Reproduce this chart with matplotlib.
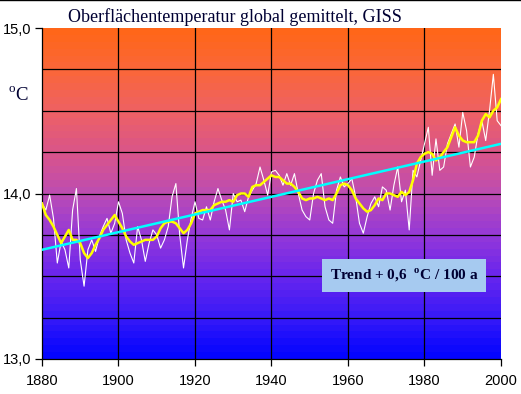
import numpy as np
import matplotlib
matplotlib.use('Agg')
import matplotlib.pyplot as plt
from matplotlib.colors import LinearSegmentedColormap

plt.rcParams['mathtext.fontset'] = 'custom'
plt.rcParams['mathtext.rm'] = 'Liberation Serif'
plt.rcParams['mathtext.bf'] = 'Liberation Serif:bold'

years = np.arange(1880, 2001)

# Jahreswerte (weiss)
annual = [13.94, 13.90, 13.99, 13.85, 13.58, 13.71, 13.66, 13.55, 13.90, 14.03,
          13.60, 13.44, 13.66, 13.72, 13.65, 13.74, 13.80, 13.85, 13.76, 13.82,
          13.95, 13.88, 13.72, 13.64, 13.58, 13.80, 13.72, 13.59, 13.70, 13.78,
          13.75, 13.67, 13.72, 13.80, 13.98, 14.06, 13.75, 13.55, 13.72, 13.85,
          13.95, 13.85, 13.84, 13.92, 13.84, 13.95, 14.03, 13.96, 13.90, 13.78,
          14.00, 13.95, 13.96, 13.89, 13.98, 14.02, 14.06, 14.16, 14.08, 13.99,
          14.13, 14.14, 14.11, 14.05, 14.12, 14.05, 14.12, 14.00, 13.90, 13.86,
          13.84, 14.00, 14.08, 14.12, 13.92, 13.84, 13.82, 14.02, 14.10, 14.04,
          14.06, 14.09, 13.98, 13.82, 13.76, 13.86, 13.94, 13.98, 13.92, 14.04,
          14.02, 13.90, 14.05, 14.16, 13.95, 14.02, 13.78, 14.14, 14.10, 14.20,
          14.30, 14.40, 14.11, 14.33, 14.14, 14.16, 14.30, 14.36, 14.42, 14.28,
          14.49, 14.38, 14.16, 14.22, 14.36, 14.44, 14.32, 14.50, 14.72, 14.44,
          14.41]

# gleitendes Mittel (gelb)
smooth = [13.94, 13.87, 13.84, 13.80, 13.75, 13.70, 13.74, 13.78, 13.72, 13.72,
          13.70, 13.64, 13.61, 13.64, 13.69, 13.73, 13.78, 13.81, 13.84, 13.87,
          13.83, 13.79, 13.74, 13.71, 13.69, 13.70, 13.71, 13.72, 13.72, 13.72,
          13.74, 13.79, 13.82, 13.83, 13.83, 13.82, 13.79, 13.76, 13.78, 13.82,
          13.88, 13.89, 13.90, 13.90, 13.90, 13.93, 13.94, 13.95, 13.95, 13.96,
          13.95, 13.99, 14.00, 14.00, 13.98, 14.04, 14.05, 14.05, 14.07, 14.09,
          14.11, 14.10, 14.10, 14.08, 14.06, 14.06, 14.04, 14.01, 13.97, 13.96,
          13.97, 13.97, 13.98, 13.97, 13.96, 13.97, 13.96, 14.00, 14.05, 14.06,
          14.05, 14.02, 13.97, 13.94, 13.91, 13.89, 13.90, 13.93, 13.97, 13.96,
          14.00, 14.00, 13.99, 13.98, 14.01, 13.99, 14.01, 14.08, 14.18, 14.22,
          14.24, 14.25, 14.24, 14.20, 14.22, 14.25, 14.28, 14.34, 14.40, 14.35,
          14.32, 14.31, 14.31, 14.31, 14.35, 14.44, 14.48, 14.46, 14.50, 14.52,
          14.57]

trend_years = [1880, 2000]
trend_vals = [13.66, 14.30]

xticks = [1880, 1900, 1920, 1940, 1960, 1980, 2000]
yticks = [13.0, 14.0, 15.0]
ylabels = ['13,0', '14,0', '15,0']

fig = plt.figure(figsize=(5.21, 3.94), dpi=100)
ax = fig.add_axes([42/521, 35/394, 459/521, 331/394])

# Hintergrund: gestufter Verlauf blau -> orange
cmap = LinearSegmentedColormap.from_list('bg', [
    (0.00, (0.02, 0.02, 1.00)),
    (0.12, (0.22, 0.10, 0.97)),
    (0.25, (0.42, 0.15, 0.93)),
    (0.37, (0.58, 0.22, 0.85)),
    (0.50, (0.74, 0.30, 0.70)),
    (0.62, (0.85, 0.33, 0.55)),
    (0.75, (0.93, 0.38, 0.40)),
    (0.87, (0.98, 0.40, 0.24)),
    (1.00, (1.00, 0.40, 0.10))])
grad = np.linspace(0, 1, 48).reshape(-1, 1)
ax.imshow(grad, cmap=cmap, origin='lower', aspect='auto',
          extent=[1880, 2000, 13, 15], interpolation='nearest', zorder=0)

for y in np.arange(13.25, 15.0, 0.25):
    ax.axhline(y, color='black', lw=0.9, zorder=1)
for x in xticks[1:-1]:
    ax.axvline(x, color='black', lw=0.9, zorder=1)

ax.plot(years, annual, color='white', lw=0.8, zorder=2)
ax.plot(years, smooth, color='#ffff00', lw=1.8, zorder=3)
ax.plot(trend_years, trend_vals, color='#00ffff', lw=1.8, zorder=4)

ax.set_xlim(1880, 2000)
ax.set_ylim(13, 15)
ax.set_xticks(xticks)
ax.set_xticklabels([str(x) for x in xticks], fontsize=10.5, family='Liberation Sans')
ax.set_yticks(yticks)
ax.set_yticklabels(ylabels, fontsize=10.5, family='Liberation Sans')
ax.tick_params(axis='both', direction='out', length=5, width=0.9, pad=3)
ax.tick_params(axis='x', pad=6)
for s in ['top', 'right']:
    ax.spines[s].set_visible(False)
ax.spines['left'].set_linewidth(0.9)
ax.spines['bottom'].set_linewidth(0.9)

fig.text(68/521, 1 - 22/394, 'Oberflächentemperatur global gemittelt, GISS',
         family='Liberation Serif', fontsize=13, color='#000033', va='baseline')
fig.text(8/521, 1 - 100/394, r'$^{\mathrm{o}}$C', family='Liberation Serif',
         fontsize=13.5, color='#000033', va='baseline')

ax.text(1974.6, 13.505, r'Trend + 0,6  $^{\mathbf{o}}$C / 100 a', family='Liberation Serif',
        fontweight='bold', fontsize=11, color='#000033', va='center', ha='center',
        bbox=dict(boxstyle='square,pad=0.5', fc='#a6caf0', ec='none'), zorder=5)

fig.add_artist(plt.Line2D([0, 1], [0.999, 0.999], color='black', lw=1))

fig.savefig('out.png', dpi=100)
